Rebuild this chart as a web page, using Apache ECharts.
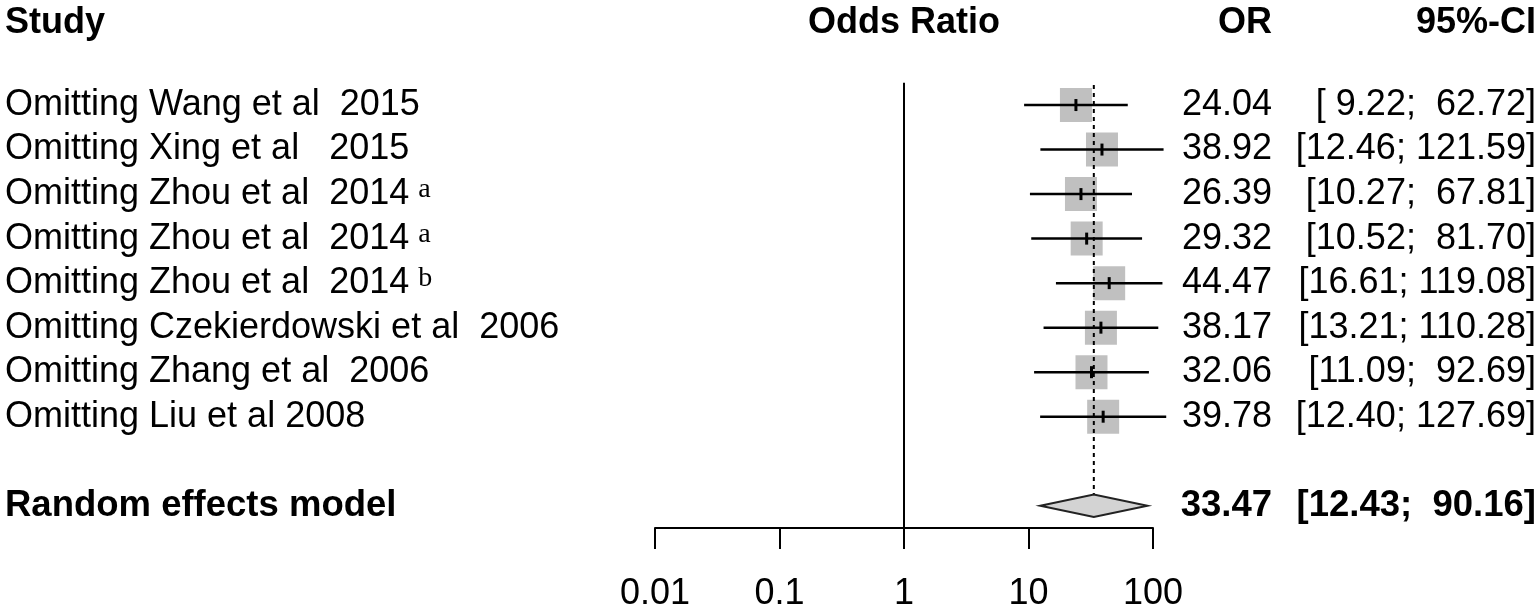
<!DOCTYPE html>
<html>
<head>
<meta charset="utf-8">
<script src="https://cdn.jsdelivr.net/npm/echarts@6/dist/echarts.min.js"></script>
<style>
html,body{margin:0;padding:0;background:#fff;}
#c{width:1540px;height:614px;}
</style>
</head>
<body>
<div id="c"></div>
<script>
// ---------------- data ----------------
const studies = [
  'Omitting Wang et al  2015',
  'Omitting Xing et al   2015',
  'Omitting Zhou et al  2014',
  'Omitting Zhou et al  2014',
  'Omitting Zhou et al  2014',
  'Omitting Czekierdowski et al  2006',
  'Omitting Zhang et al  2006',
  'Omitting Liu et al 2008'
];
const superscripts = ['', '', 'a', 'a', 'b', '', '', ''];
const orValues = [24.04, 38.92, 26.39, 29.32, 44.47, 38.17, 32.06, 39.78];
const ciLower  = [9.22, 12.46, 10.27, 10.52, 16.61, 13.21, 11.09, 12.40];
const ciUpper  = [62.72, 121.59, 67.81, 81.70, 119.08, 110.28, 92.69, 127.69];
const pooledLabel = 'Random effects model';
const pooledOR = 33.47;
const pooledLower = 12.43;
const pooledUpper = 90.16;
const headers = ['Study', 'Odds Ratio', 'OR', '95%-CI'];
const tickLabels = ['0.01', '0.1', '1', '10', '100'];

// ---------------- layout / style ----------------
const FONT = '"Liberation Sans", Arial, Helvetica, sans-serif';
const SERIF = '"Liberation Serif", "Times New Roman", serif';
const FS = 36;
const POOLED_ROW = 9;
const HEADER_ROW = -1.85;
const X_LABEL = 5, X_OR = 1272, X_CI = 1536;

const fmt2 = v => v.toFixed(2);
const ciText = (lo, hi) => '[' + fmt2(lo).padStart(5) + '; ' + fmt2(hi).padStart(6) + ']';

function txt(x, y, text, extra) {
  return {
    type: 'text', x: x, y: y,
    style: Object.assign({
      text: text, fill: '#000', fontFamily: FONT, fontSize: FS,
      fontWeight: 'normal', align: 'left', verticalAlign: 'middle'
    }, extra || {})
  };
}

const chart = echarts.init(document.getElementById('c'), null, {renderer: 'canvas'});

const option = {
  animation: false,
  backgroundColor: '#fff',
  grid: {left: 655, right: 387, top: 16, bottom: 86, containLabel: false},
  xAxis: {
    type: 'log', logBase: 10, min: 0.01, max: 100, splitNumber: 4,
    axisLine: {show: true, onZero: false, lineStyle: {color: '#000', width: 2}},
    axisTick: {show: true, length: 21, lineStyle: {color: '#000', width: 2}},
    minorTick: {show: false},
    splitLine: {show: false},
    axisLabel: {
      color: '#000', fontSize: 36, fontFamily: FONT, margin: 48,
      formatter: v => tickLabels[Math.round(Math.log10(v)) + 2]
    }
  },
  yAxis: {type: 'value', inverse: true, min: -2, max: 9.5, show: false},
  series: [
    // reference line at OR = 1
    {
      type: 'custom', z: 1, silent: true, clip: false,
      data: [[1, -0.5, 9.5]],
      renderItem: (params, api) => {
        const a = api.coord([api.value(0), api.value(1)]);
        const b = api.coord([api.value(0), api.value(2)]);
        return {type: 'line', shape: {x1: a[0], y1: a[1], x2: b[0], y2: b[1]},
                style: {stroke: '#000', lineWidth: 2}};
      }
    },
    // squares
    {
      type: 'scatter', z: 2, silent: true,
      symbol: 'rect', symbolSize: [32, 34],
      itemStyle: {color: '#c0c0c0', opacity: 1},
      data: orValues.map((v, i) => [v, i])
    },
    // confidence interval lines
    {
      type: 'custom', z: 3, silent: true, clip: false,
      encode: {x: [0, 1], y: 2},
      data: ciLower.map((lo, i) => [lo, ciUpper[i], i]),
      renderItem: (params, api) => {
        const a = api.coord([api.value(0), api.value(2)]);
        const b = api.coord([api.value(1), api.value(2)]);
        return {type: 'line', shape: {x1: a[0], y1: a[1], x2: b[0], y2: b[1]},
                style: {stroke: '#000', lineWidth: 2.5}};
      }
    },
    // point estimate ticks
    {
      type: 'scatter', z: 4, silent: true,
      symbol: 'rect', symbolSize: [3, 12],
      itemStyle: {color: '#000', opacity: 1},
      data: orValues.map((v, i) => [v, i])
    },
    // dashed line at pooled estimate
    {
      type: 'custom', z: 5, silent: true, clip: false,
      data: [[pooledOR, -0.45, POOLED_ROW - 0.25]],
      renderItem: (params, api) => {
        const a = api.coord([api.value(0), api.value(1)]);
        const b = api.coord([api.value(0), api.value(2)]);
        return {type: 'line', shape: {x1: a[0], y1: a[1], x2: b[0], y2: b[1]},
                style: {stroke: '#000', lineWidth: 2, lineDash: [4, 4]}};
      }
    },
    // pooled diamond
    {
      type: 'custom', z: 5, silent: true, clip: false,
      encode: {x: [0, 1, 2], y: 3},
      data: [[pooledLower, pooledOR, pooledUpper, POOLED_ROW]],
      renderItem: (params, api) => {
        const row = api.value(3);
        const l = api.coord([api.value(0), row]);
        const r = api.coord([api.value(2), row]);
        const top = api.coord([api.value(1), row - 0.25]);
        const bot = api.coord([api.value(1), row + 0.25]);
        return {type: 'polygon',
                shape: {points: [[l[0], l[1]], [top[0], top[1]], [r[0], r[1]], [bot[0], bot[1]]]},
                style: {fill: '#d3d3d3', stroke: '#222', lineWidth: 2}};
      }
    },
    // study text rows
    {
      type: 'custom', z: 6, silent: true, clip: false,
      data: orValues.map((v, i) => [v, i]),
      renderItem: (params, api) => {
        const i = params.dataIndex;
        const y = api.coord([1, api.value(1)])[1];
        const sup = superscripts[i];
        const labelEl = sup
          ? txt(X_LABEL, y, '{m|' + studies[i] + '}{s|' + sup + '}', {
              rich: {
                m: {fontSize: FS, fontFamily: FONT, fill: '#000'},
                s: {fontSize: 28, fontFamily: SERIF, fill: '#000', verticalAlign: 'top', padding: [0, 0, 0, 9]}
              }
            })
          : txt(X_LABEL, y, studies[i]);
        return {type: 'group', children: [
          labelEl,
          txt(X_OR, y, fmt2(orValues[i]), {align: 'right'}),
          txt(X_CI, y, ciText(ciLower[i], ciUpper[i]), {align: 'right'})
        ]};
      }
    },
    // pooled text row
    {
      type: 'custom', z: 6, silent: true, clip: false,
      data: [[pooledOR, POOLED_ROW]],
      renderItem: (params, api) => {
        const y = api.coord([1, api.value(1)])[1];
        const b = {fontWeight: 'bold', fontSize: 36.5};
        return {type: 'group', children: [
          txt(X_LABEL, y, pooledLabel, b),
          txt(X_OR, y, fmt2(pooledOR), Object.assign({align: 'right'}, b)),
          txt(X_CI, y, ciText(pooledLower, pooledUpper), Object.assign({align: 'right'}, b))
        ]};
      }
    },
    // header row
    {
      type: 'custom', z: 6, silent: true, clip: false,
      data: [[1, HEADER_ROW]],
      renderItem: (params, api) => {
        const p = api.coord([api.value(0), api.value(1)]);
        const b = {fontWeight: 'bold', fontSize: 36};
        return {type: 'group', children: [
          txt(X_LABEL, p[1], headers[0], b),
          txt(p[0], p[1], headers[1], Object.assign({align: 'center'}, b)),
          txt(X_OR, p[1], headers[2], Object.assign({align: 'right'}, b)),
          txt(X_CI, p[1], headers[3], Object.assign({align: 'right'}, b))
        ]};
      }
    }
  ]
};
chart.setOption(option);
</script>
</body>
</html>
